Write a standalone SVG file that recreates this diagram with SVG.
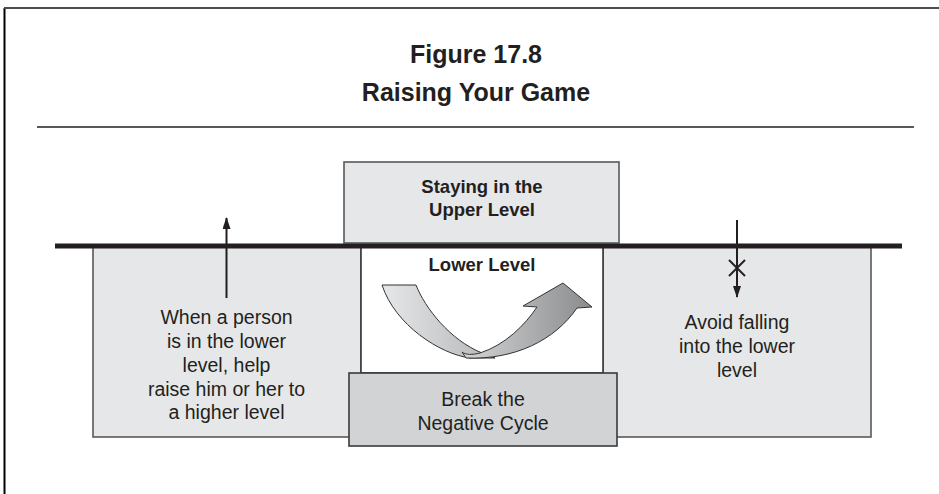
<svg xmlns="http://www.w3.org/2000/svg" width="939" height="494" viewBox="0 0 939 494">
<style>
  .title { font-family: "Liberation Sans", Arial, sans-serif; font-weight: bold; font-size: 25px; fill: #231f20; text-anchor: middle; }
  .blab { font-family: "Liberation Sans", Arial, sans-serif; font-weight: bold; font-size: 18.5px; fill: #231f20; text-anchor: middle; }
  .lab { font-family: "Liberation Sans", Arial, sans-serif; font-size: 19.5px; fill: #231f20; text-anchor: middle; }
  .panel { fill: #e6e7e8; stroke: #58595b; stroke-width: 1.6; }
  .dark { fill: #d1d3d4; stroke: #3a3a3a; stroke-width: 1.6; }
  .white { fill: #ffffff; stroke: #3a3a3a; stroke-width: 1.6; }
  .conn { stroke: #231f20; stroke-width: 2; fill: none; }
  .ribbon { stroke: #333; stroke-width: 1; stroke-linejoin: round; }
</style>
<defs>
  <marker id="ah" markerWidth="12" markerHeight="8" refX="11" refY="4" orient="auto" markerUnits="userSpaceOnUse" viewBox="0 0 12 8">
    <path d="M0,0 L12,4 L0,8 Z" fill="#231f20"/>
  </marker>
  <linearGradient id="gl" x1="382" y1="0" x2="495" y2="0" gradientUnits="userSpaceOnUse">
    <stop offset="0" stop-color="#e6e7e8"/>
    <stop offset="1" stop-color="#b5b6b8"/>
  </linearGradient>
  <linearGradient id="gr" x1="462" y1="0" x2="592" y2="0" gradientUnits="userSpaceOnUse">
    <stop offset="0" stop-color="#d4d5d6"/>
    <stop offset="1" stop-color="#8a8b8d"/>
  </linearGradient>
</defs>

<g id="frame">
  <line x1="4.5" y1="8" x2="4.5" y2="494" stroke="#000" stroke-width="2"/>
  <line x1="4" y1="8" x2="939" y2="8" stroke="#4d4d4f" stroke-width="2"/>
</g>

<g id="title">
  <text class="title" x="476" y="63">Figure 17.8</text>
  <text class="title" x="476" y="101">Raising Your Game</text>
  <line x1="37" y1="127" x2="914" y2="127" stroke="#231f20" stroke-width="1.5"/>
</g>

<g id="left-panel">
  <rect class="panel" x="93" y="246" width="268" height="191"/>
  <text class="lab" x="226.5" y="324">When a person</text>
  <text class="lab" x="226.5" y="348">is in the lower</text>
  <text class="lab" x="226.5" y="372">level, help</text>
  <text class="lab" x="226.5" y="396">raise him or her to</text>
  <text class="lab" x="226.5" y="419">a higher level</text>
</g>

<g id="right-panel">
  <rect class="panel" x="603" y="246" width="268" height="191"/>
  <text class="lab" x="737" y="329">Avoid falling</text>
  <text class="lab" x="737" y="353">into the lower</text>
  <text class="lab" x="737" y="377">level</text>
</g>

<g id="lower-level">
  <rect class="white" x="361" y="246" width="242" height="127"/>
  <text class="blab" x="482" y="271">Lower Level</text>
</g>

<g id="upper-level">
  <rect class="panel" x="344" y="162" width="275" height="81"/>
  <text class="blab" x="482" y="193">Staying in the</text>
  <text class="blab" x="482" y="216">Upper Level</text>
</g>

<g id="divider">
  <line x1="55" y1="246" x2="902" y2="246" stroke="#231f20" stroke-width="5"/>
</g>

<g id="break-cycle">
  <rect class="dark" x="349" y="373" width="268" height="73"/>
  <text class="lab" x="483" y="406">Break the</text>
  <text class="lab" x="483" y="430">Negative Cycle</text>
</g>

<g id="cycle-arrow">
  <path class="ribbon" fill="url(#gl)" d="M382,285 L416,285 C425,308 450,340 482,353 C488,356 492,357 495,358 L470,358 C440,354 395,325 382,285 Z"/>
  <path class="ribbon" fill="url(#gr)" d="M466,358 C515,360 555,340 577,308 L592,307 L563,283 L523,306 L537,307 C525,325 505,345 480,353 C472,355 466,355 462,352 Z"/>
</g>

<g id="connectors">
  <line class="conn" x1="226.5" y1="298" x2="226.5" y2="218" marker-end="url(#ah)"/>
  <line class="conn" x1="737" y1="220" x2="737" y2="297" marker-end="url(#ah)"/>
  <line class="conn" stroke-width="1.3" x1="729" y1="260" x2="745" y2="276"/>
  <line class="conn" stroke-width="1.3" x1="745" y1="260" x2="729" y2="276"/>
</g>
</svg>
